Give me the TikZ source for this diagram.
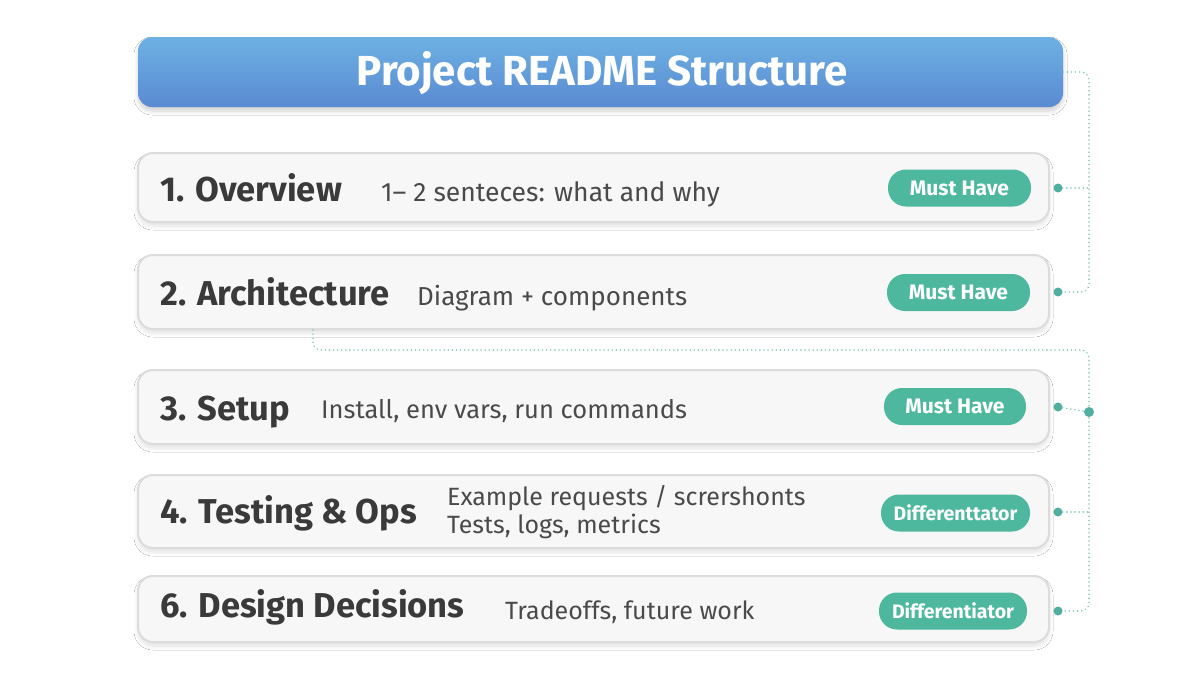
\documentclass[tikz,border=0pt]{standalone}
\usepackage{fontspec}
\setmainfont{Fira Sans}
\usetikzlibrary{shadows.blur,calc}
\definecolor{tTop}{HTML}{6DB1E3}
\definecolor{tBot}{HTML}{5A8AD2}
\definecolor{boxfill}{HTML}{F7F7F7}
\definecolor{boxline}{HTML}{DCDCDC}
\definecolor{ink}{HTML}{3A3A3A}
\definecolor{ink2}{HTML}{4A4A4A}
\definecolor{pillc}{HTML}{4DB89D}
\definecolor{linec}{HTML}{86CBBE}
\definecolor{dotc}{HTML}{52AFA0}
\begin{document}
\begin{tikzpicture}[x=1pt,y=-1pt,
  titlebox/.style={rectangle, rounded corners=14pt, minimum width=925pt, minimum height=70pt,
    top color=tTop, bottom color=tBot, draw=none,
    blur shadow={shadow blur steps=8, shadow xshift=0pt, shadow yshift=-4pt, shadow opacity=18, shadow blur radius=4pt}},
  rowbox/.style={rectangle, rounded corners=15pt, minimum width=911pt, fill=boxfill, draw=boxline, line width=2pt,
    blur shadow={shadow blur steps=8, shadow xshift=0pt, shadow yshift=-4pt, shadow opacity=12, shadow blur radius=4pt}},
  heading/.style={anchor=base west, font=\bfseries\fontsize{34.5}{38}\selectfont, text=ink, inner sep=0pt},
  desc/.style={anchor=base west, font=\fontsize{25.5}{28}\selectfont, text=ink2, inner sep=0pt},
  pill/.style={rectangle, rounded corners=18pt, fill=pillc, text=white, font=\bfseries\fontsize{21}{23}\selectfont,
    minimum height=37pt, inner xsep=3pt},
  dot/.style={circle, fill=dotc, inner sep=0pt, minimum size=9pt},
  conn/.style={draw=linec, line width=1.7pt, dash pattern=on 0.1pt off 4pt, line cap=round, rounded corners=8pt}
]
\fill[white] (0,0) rectangle (1200,686);
\useasboundingbox (0,0) rectangle (1200,686);

% title
\node[titlebox] (title) at (600.5,72) {};
\node[anchor=base, text=white, font=\bfseries\fontsize{42}{46}\selectfont, inner sep=0pt] (titletext) at (602,85) {Project README Structure};

% rows
\node[rowbox, minimum height=69pt] (r1) at (593.5,187.5) {};
\node[rowbox, minimum height=74pt] (r2) at (593.5,292) {};
\node[rowbox, minimum height=74pt] (r3) at (593.5,407) {};
\node[rowbox, minimum height=73pt] (r4) at (593.5,511.5) {};
\node[rowbox, minimum height=66pt] (r5) at (593.5,609) {};

% headings
\node[heading] (h1) at (160,201) {1. Overview};
\node[heading] (h2) at (160,305) {2. Architecture};
\node[heading] (h3) at (160,420) {3. Setup};
\node[heading] (h4) at (160,523) {4. Testing \& Ops};
\node[heading] (h5) at (160,617) {6. Design Decisions};

% descriptions
\node[desc, font=\fontsize{26.5}{29}\selectfont] (t1) at (381,201) {1– 2 senteces: what and why};
\node[desc, font=\fontsize{26}{29}\selectfont] (t2) at (417,305) {Diagram + components};
\node[desc] (t3) at (321,418) {Install, env vars, run commands};
\node[desc, font=\fontsize{25}{28}\selectfont] (t4a) at (447,505) {Example requests / scrershonts};
\node[desc, font=\fontsize{25}{28}\selectfont] (t4b) at (447,533) {Tests, logs, metrics};
\node[desc, font=\fontsize{25}{28}\selectfont] (t5) at (505,619) {Tradeoffs, future work};

% pills
\node[pill, minimum width=143pt] (p1) at (959.5,188) {Must Have};
\node[pill, minimum width=143pt] (p2) at (958.5,292.5) {Must Have};
\node[pill, minimum width=142pt] (p3) at (955,406.5) {Must Have};
\node[pill, minimum width=149pt, font=\bfseries\fontsize{19.5}{22}\selectfont] (p4) at (955.5,513) {Differenttator};
\node[pill, minimum width=148pt, font=\bfseries\fontsize{19.5}{22}\selectfont] (p5) at (953,611) {Differentiator};

% dots
\node[dot] (d1) at (1058,188) {};
\node[dot] (d2) at (1058,292) {};
\node[dot] (d3) at (1058,407) {};
\node[dot] (d4) at (1058,512) {};
\node[dot] (d5) at (1058,611) {};

% connectors group 1
\coordinate (a1) at (1089,72);
\coordinate (a2) at (1089,292);
\draw[conn] (title.east) -- (a1) -- (a2) -- (d2);
\draw[conn] (d1) -- (d1 -| a1);

% connectors group 2
\coordinate (b1) at (313,350);
\coordinate (b2) at (1089,350);
\coordinate (b3) at (1089,611);
\draw[conn] (r2.south -| b1) -- (b1) -- (b2) -- (b3) -- (d5);
\node[dot, minimum size=10pt] (j) at (1089,412) {};
\draw[conn] (d3) -- (j);
\draw[conn] (d4) -- (d4 -| b2);
\end{tikzpicture}
\end{document}
